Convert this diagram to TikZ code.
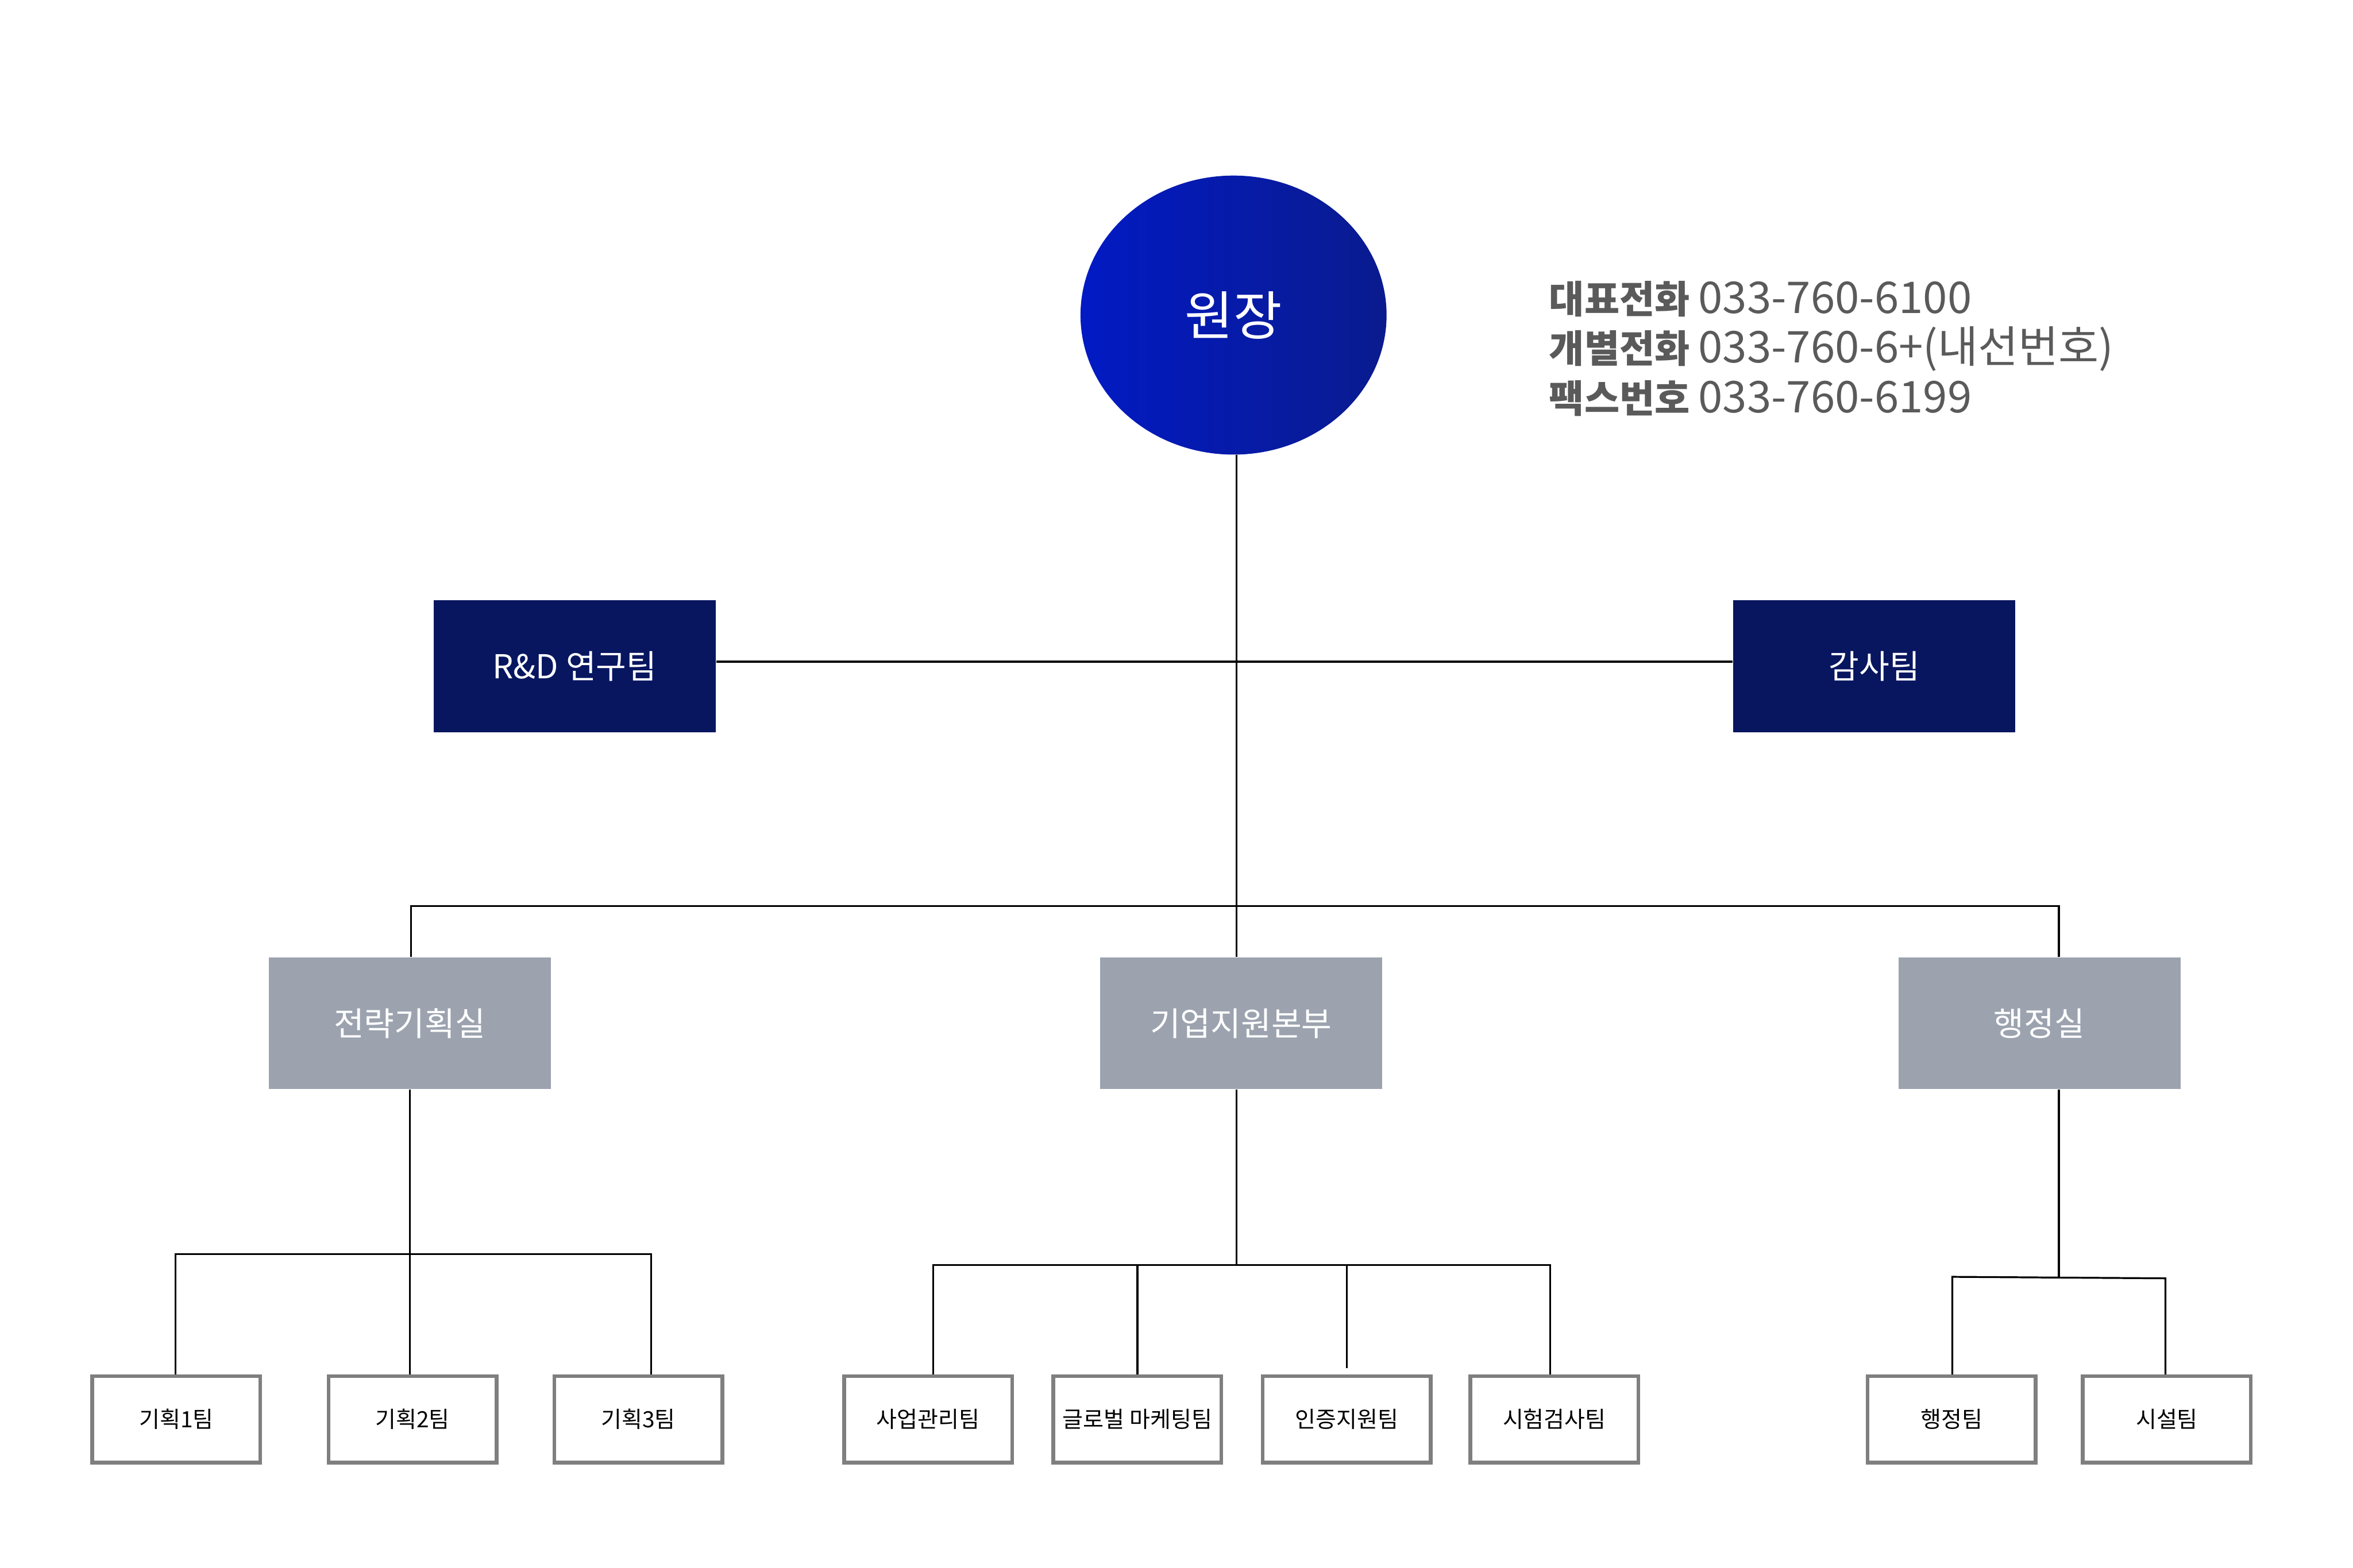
\documentclass[tikz,border=0pt]{standalone}
\usepackage{fontspec}
\setmainfont{Noto Sans CJK KR}
\usetikzlibrary{positioning,shapes.geometric}
\definecolor{headblue}{RGB}{2,26,196}
\definecolor{headdark}{RGB}{10,27,142}
\definecolor{navy}{RGB}{8,22,96}
\definecolor{slate}{RGB}{156,163,175}
\definecolor{edgegray}{RGB}{127,127,127}
\definecolor{infogray}{RGB}{90,90,90}

\newcommand{\phonenum}[1]{{\fontsize{16.6}{18.8}\selectfont #1}}

\begin{document}
\begin{tikzpicture}[
    x=0.02cm, y=-0.02cm,
    head/.style={ellipse, inner sep=0pt,
                 minimum width=4.08cm, minimum height=3.72cm,
                 left color=headblue, right color=headdark,
                 text=white, font=\fontsize{20}{24}\selectfont},
    staff/.style={rectangle, fill=navy, inner sep=0pt,
                  minimum width=3.76cm, minimum height=1.76cm,
                  text=white, font=\fontsize{12.5}{15}\selectfont},
    dept/.style={rectangle, fill=slate, inner sep=0pt,
                 minimum width=3.76cm, minimum height=1.76cm,
                 text=white, font=\fontsize{12.5}{15}\selectfont},
    team/.style={rectangle, draw=edgegray, line width=1.4pt, fill=white,
                 inner sep=0pt, minimum width=2.24cm, minimum height=1.15cm,
                 font=\fontsize{8.5}{10}\selectfont},
    info/.style={anchor=north west, inner sep=0pt, align=left,
                 text=infogray, font=\fontsize{14.5}{18.8}\selectfont},
    link/.style={line width=0.7pt}
  ]
  \useasboundingbox (0,0) rectangle (1568,1045);

  % top
  \node[head] (chief) at (822,210) {원장};
  \node[info] (phone) at (1032,187)
    {\textbf{대표전화} \phonenum{033-760-6100}\\
     \textbf{개별전화} \phonenum{033-760-6+(내선번호)}\\
     \textbf{팩스번호} \phonenum{033-760-6199}};

  \node[staff] (rnd) at (383,444) {R\&D 연구팀};
  \node[staff] (audit) at (1249,444) {감사팀};

  % departments
  \node[dept] (strat) at (273,682) {전략기획실};
  \node[dept] (biz) at (827,682) {기업지원본부};
  \node[dept] (admin) at (1359,682) {행정실};

  % teams
  \node[team] (plan1) at (117.5,946) {기획1팀};
  \node[team, right=0.86cm of plan1] (plan2) {기획2팀};
  \node[team, right=0.72cm of plan2] (plan3) {기획3팀};

  \node[team] (proj) at (618.5,946) {사업관리팀};
  \node[team, right=0.5cm of proj] (global) {글로벌 마케팅팀};
  \node[team, right=0.5cm of global] (cert) {인증지원팀};
  \node[team, right=0.48cm of cert] (test) {시험검사팀};

  \node[team] (gen) at (1300.5,946) {행정팀};
  \node[team, right=0.58cm of gen] (fac) {시설팀};

  % bus points
  \coordinate (spine) at (824,604);
  \coordinate (busL) at (274,604);
  \coordinate (busR) at (1372,604);
  \coordinate (planL) at (117,836);
  \coordinate (planR) at (434,836);
  \coordinate (bizL) at (622,843);
  \coordinate (bizR) at (1033,843);
  \coordinate (admM) at (1372,851);
  \coordinate (admL) at (1301,851);
  \coordinate (admR) at (1443,852);

  % connectors
  \draw[link] ([yshift=0.06cm]rnd.east) -- ([yshift=0.06cm]audit.west);
  \draw[link] (spine |- chief.south) -- (spine |- biz.north);
  \draw[link] (busL |- strat.north) -- (busL) -- (busR) -- (busR |- admin.north);

  \draw[link] (strat.south) -- (strat.south |- plan2.north);
  \draw[link] (planL |- plan1.north) -- (planL) -- (planR) -- (planR |- plan3.north);

  \draw[link] (spine |- biz.south) -- (spine |- bizL);
  \draw[link] (bizL |- proj.north) -- (bizL) -- (bizR) -- (bizR |- test.north);
  \draw[link] (global.north) -- (global.north |- bizL);
  \draw[link] ([yshift=0.08cm]cert.north) -- (cert.north |- bizL);

  \draw[link] (admM |- admin.south) -- (admM);
  \draw[link] (admL |- gen.north) -- (admL) -- (admR) -- (admR |- fac.north);
\end{tikzpicture}
\end{document}
